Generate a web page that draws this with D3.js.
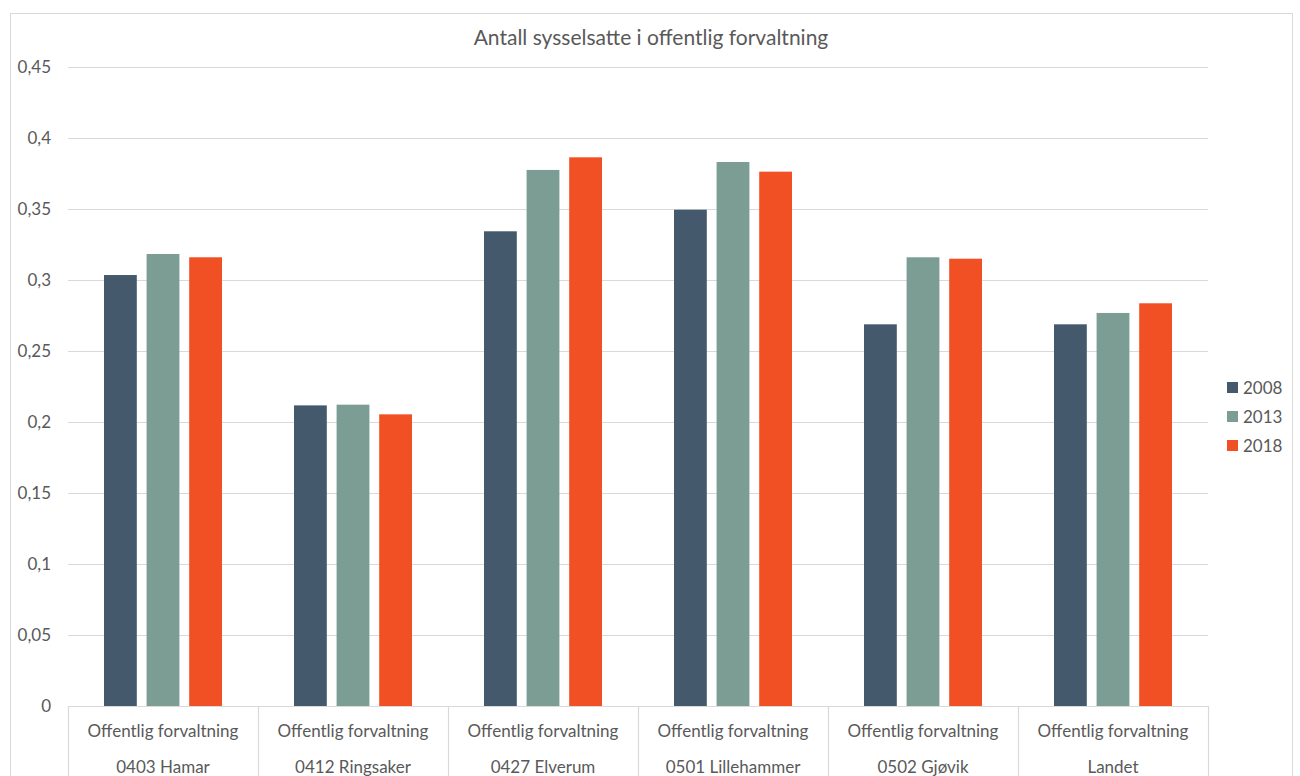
<!DOCTYPE html>
<html>
<head>
<meta charset="utf-8">
<script src="https://cdn.jsdelivr.net/npm/d3@7"></script>
<style>
  html, body { margin: 0; padding: 0; background: #fff; }
  svg { display: block; font-family: Lato, "Open Sans", sans-serif; }
</style>
</head>
<body>
<svg id="chart" width="1300" height="776"></svg>
<script>
// Andel sysselsatte i offentlig forvaltning per kommune
const title = "Antall sysselsatte i offentlig forvaltning";
const sectorLabel = "Offentlig forvaltning";
const regions = ["0403 Hamar", "0412 Ringsaker", "0427 Elverum", "0501 Lillehammer", "0502 Gjøvik", "Landet"];
const years = ["2008", "2013", "2018"];
const values2008 = [0.3035, 0.2117, 0.3343, 0.3495, 0.2688, 0.2688];
const values2013 = [0.3183, 0.2122, 0.3775, 0.3831, 0.3160, 0.2768];
const values2018 = [0.3160, 0.2054, 0.3864, 0.3763, 0.3150, 0.2836];
const yTicks = [0, 0.05, 0.1, 0.15, 0.2, 0.25, 0.3, 0.35, 0.4, 0.45];
const colors = ["#44596b", "#7b9d94", "#f05023"];

const seriesValues = [values2008, values2013, values2018];
const rows = regions.map((r, i) => ({ region: r, vals: years.map((y, j) => ({ year: y, value: seriesValues[j][i] })) }));

const svg = d3.select("#chart");
const margin = { left: 68, right: 1208, top: 67, bottom: 706 };
const textColor = "#595959";
const gridColor = "#d9d9d9";
const fontSize = 17;

// Outer chart frame
svg.append("rect")
  .attr("x", 10.5).attr("y", 13.5)
  .attr("width", 1282).attr("height", 800)
  .attr("fill", "none").attr("stroke", gridColor).attr("stroke-width", 1);

// Title
svg.append("text")
  .attr("x", 651).attr("y", 45)
  .attr("text-anchor", "middle")
  .attr("fill", textColor)
  .attr("font-size", 21)
  .text(title);

const y = d3.scaleLinear().domain([0, 0.45]).range([margin.bottom, margin.top]);
const x0 = d3.scaleBand().domain(regions).range([margin.left, margin.right]).padding(0);
const x1 = d3.scaleBand().domain(years).range([36, 154]).paddingInner(0.23).paddingOuter(0);

const fmt = v => d3.format("")(v).replace(".", ",");

// Gridlines
svg.append("g")
  .selectAll("line")
  .data(yTicks.filter(t => t > 0))
  .join("line")
  .attr("x1", margin.left).attr("x2", margin.right)
  .attr("y1", d => Math.round(y(d)) + 0.5).attr("y2", d => Math.round(y(d)) + 0.5)
  .attr("stroke", gridColor).attr("stroke-width", 1.2);

// Y axis labels
const yAxis = d3.axisLeft(y).tickValues(yTicks).tickFormat(fmt).tickSize(0).tickPadding(17);
const gy = svg.append("g").attr("transform", `translate(${margin.left},0)`).call(yAxis);
gy.select(".domain").remove();
gy.selectAll("text").attr("fill", textColor).attr("font-size", fontSize).attr("font-family", "Lato, 'Open Sans', sans-serif");

// Bars
const groups = svg.append("g")
  .selectAll("g")
  .data(rows)
  .join("g")
  .attr("transform", d => `translate(${x0(d.region)},0)`);

groups.selectAll("rect")
  .data(d => d.vals)
  .join("rect")
  .attr("x", d => x1(d.year))
  .attr("width", x1.bandwidth())
  .attr("y", d => y(d.value))
  .attr("height", d => y(0) - y(d.value))
  .attr("fill", (d, i) => colors[i]);

// Category axis: baseline, separators and two-line labels
const cat = svg.append("g");
cat.append("line")
  .attr("x1", margin.left).attr("x2", margin.right)
  .attr("y1", margin.bottom + 0.5).attr("y2", margin.bottom + 0.5)
  .attr("stroke", gridColor).attr("stroke-width", 1.2);

const boundaries = regions.map(r => x0(r)).concat([margin.right]);
cat.selectAll("line.sep")
  .data(boundaries)
  .join("line")
  .attr("class", "sep")
  .attr("x1", d => Math.round(d) + 0.5).attr("x2", d => Math.round(d) + 0.5)
  .attr("y1", margin.bottom).attr("y2", 790)
  .attr("stroke", gridColor).attr("stroke-width", 1.2);

const labels = cat.selectAll("g.lab")
  .data(regions)
  .join("g")
  .attr("class", "lab")
  .attr("transform", d => `translate(${x0(d) + x0.bandwidth() / 2},0)`);
labels.append("text")
  .attr("y", 737).attr("text-anchor", "middle")
  .attr("fill", textColor).attr("font-size", fontSize)
  .text(sectorLabel);
labels.append("text")
  .attr("y", 773).attr("text-anchor", "middle")
  .attr("fill", textColor).attr("font-size", fontSize)
  .text(d => d);

// Legend
const legend = svg.append("g")
  .selectAll("g")
  .data(years)
  .join("g")
  .attr("transform", (d, i) => `translate(1227,${382 + i * 29})`);
legend.append("rect")
  .attr("width", 11).attr("height", 11)
  .attr("fill", (d, i) => colors[i]);
legend.append("text")
  .attr("x", 16).attr("y", 12)
  .attr("fill", textColor).attr("font-size", fontSize)
  .text(d => d);
</script>
</body>
</html>
